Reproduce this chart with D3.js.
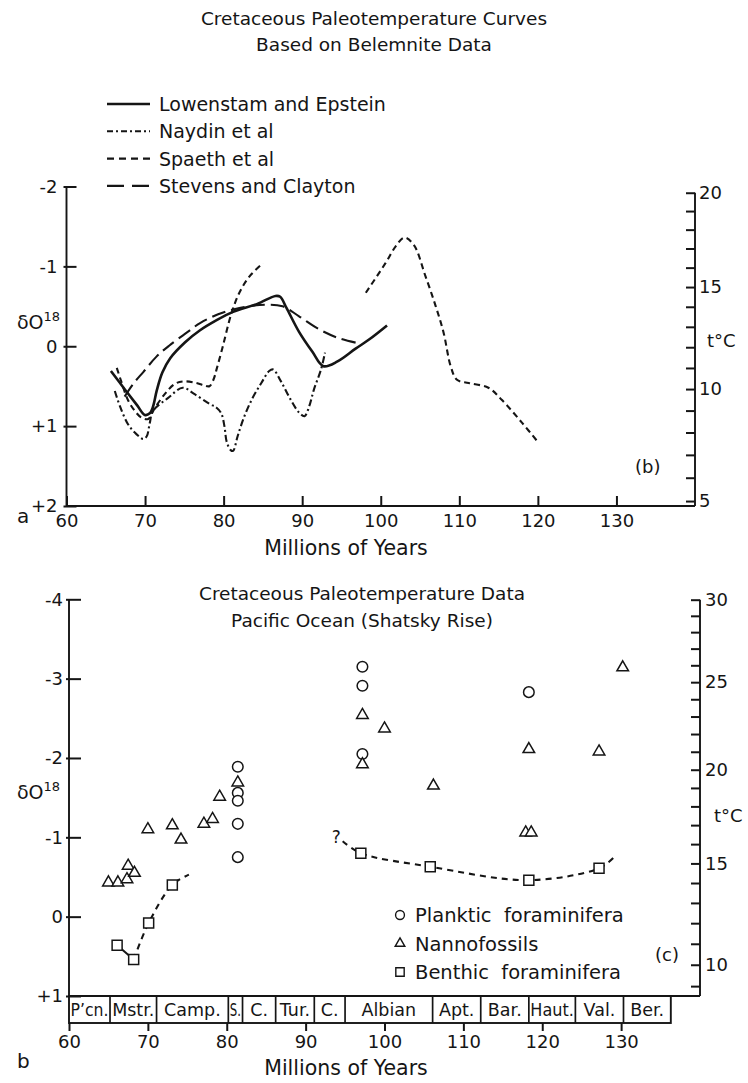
<!DOCTYPE html>
<html>
<head>
<meta charset="utf-8">
<script src="https://cdn.jsdelivr.net/npm/d3@7/dist/d3.min.js"></script>
<style>
  body { margin: 0; background: #fff; }
  svg text { font-family: "DejaVu Sans", sans-serif; fill: #151515; }
</style>
</head>
<body>
<svg id="chart" width="748" height="1083"></svg>
<script>
// ---------- Panel (b): belemnite paleotemperature curves  [age Ma, δ18O ‰] ----------
const lowenstamEpstein = [
  [65.65, 0.31], [67.5, 0.55], [69.0, 0.74], [69.96, 0.86], [70.6, 0.84], [71.0, 0.76],
  [71.5, 0.55], [72.2, 0.33], [73.2, 0.15], [75.1, -0.05], [77.0, -0.2], [79.0, -0.32],
  [81.2, -0.43], [84.3, -0.53], [86.6, -0.63], [87.2, -0.62], [88.0, -0.48], [89.6, -0.18],
  [91.3, 0.07], [92.7, 0.25], [94.5, 0.19], [96.8, 0.03], [98.6, -0.09], [100.8, -0.26]
];
const naydin = [
  [66.15, 0.56], [66.8, 0.75], [67.85, 0.98], [68.9, 1.1], [69.75, 1.16], [70.2, 1.13],
  [70.6, 0.96], [71.0, 0.81], [72.9, 0.65], [74.8, 0.52], [76.3, 0.6], [78.2, 0.72],
  [79.1, 0.77], [79.7, 0.84], [80.1, 1.0], [80.4, 1.2], [80.9, 1.3], [81.2, 1.31],
  [81.8, 1.12], [82.65, 0.875], [83.7, 0.645], [84.8, 0.46], [85.8, 0.31], [86.3, 0.29],
  [87.3, 0.44], [88.4, 0.645], [89.6, 0.83], [90.3, 0.875], [90.9, 0.75], [91.5, 0.54],
  [92.4, 0.29], [92.9, 0.08]
];
const spaethLate = [
  [66.4, 0.27], [67.0, 0.45], [67.85, 0.68], [68.7, 0.81], [69.5, 0.89], [70.4, 0.91],
  [71.2, 0.78], [72.5, 0.6], [73.8, 0.47], [75.0, 0.44], [76.5, 0.46], [77.5, 0.49],
  [78.2, 0.5], [78.7, 0.42], [79.1, 0.29], [79.9, 0.0], [80.96, -0.4], [82.0, -0.67],
  [83.3, -0.875], [85.0, -1.04]
];
const spaethEarly = [
  [98.1, -0.67], [100.6, -1.04], [101.9, -1.25], [103.0, -1.36], [104.2, -1.27],
  [105.7, -0.875], [107.0, -0.5], [108.0, -0.17], [108.9, 0.25], [109.7, 0.42],
  [111.2, 0.46], [113.7, 0.52], [115.4, 0.67], [118.0, 0.96], [120.1, 1.21]
];
const stevensClayton = [
  [67.4, 0.63], [68.5, 0.47], [69.8, 0.32], [71.45, 0.13], [73.1, -0.01], [75.7, -0.2],
  [77.0, -0.29], [79.3, -0.4], [82.0, -0.48], [85.4, -0.52], [87.5, -0.5], [89.6, -0.375],
  [92.2, -0.21], [94.7, -0.1], [97.5, -0.03]
];
const curveNames = ["Lowenstam and Epstein", "Naydin et al", "Spaeth et al", "Stevens and Clayton"];

// ---------- Panel (c): Shatsky Rise, Pacific Ocean  [age Ma, δ18O ‰] ----------
const planktic = [
  [97.2, -3.15], [97.2, -2.91], [97.2, -2.05], [81.4, -1.89], [81.4, -1.56], [81.4, -1.46],
  [81.4, -1.17], [81.4, -0.75], [118.3, -2.83]
];
const nannofossils = [
  [65.0, -0.43], [66.2, -0.43], [67.35, -0.47], [67.5, -0.64], [68.3, -0.55],
  [70.0, -1.1], [73.1, -1.15], [74.2, -0.97], [77.1, -1.17], [78.2, -1.23], [79.1, -1.51],
  [81.4, -1.69], [97.2, -2.54], [97.2, -1.92], [100.0, -2.37], [106.2, -1.65],
  [117.9, -1.06], [118.6, -1.06], [118.3, -2.11], [127.2, -2.08], [130.2, -3.14]
];
const benthic = [
  [66.1, 0.36], [68.2, 0.54], [70.1, 0.08], [73.1, -0.4],
  [97.0, -0.8], [105.8, -0.63], [118.3, -0.46], [127.2, -0.61]
];
const benthicTrendLate = [[68.2, 0.54], [70.1, 0.08], [73.1, -0.4], [75.2, -0.53]];
const benthicTrendEarly = [[94.7, -0.95], [97.0, -0.8], [105.8, -0.63], [118.3, -0.46], [127.2, -0.61], [129.0, -0.74]];
const markerNames = ["Planktic  foraminifera", "Nannofossils", "Benthic  foraminifera"];

const stageNames = ["P\u2019cn.", "Mstr.", "Camp.", "S.", "C.", "Tur.", "C.", "Albian", "Apt.", "Bar.", "Haut.", "Val.", "Ber."];
const stageBounds = [60, 65.2, 71.1, 80.2, 82.0, 86.2, 91.1, 95.0, 106.1, 112.2, 118.3, 124.2, 130.3, 136.3];

// ---------- ticks ----------
const ageTicks = [60, 70, 80, 90, 100, 110, 120, 130];
const deltaTicksB = [-2, -1, 0, 1, 2];
const deltaTicksC = [-4, -3, -2, -1, 0, 1];
const tempTicksB = [5, 6, 7, 8, 9, 10, 11, 12, 13, 14, 15, 16, 17, 18, 19, 20];
const tempTicksC = [9, 10, 11, 12, 13, 14, 15, 16, 17, 18, 19, 20, 21, 22, 23, 24, 25, 26, 27, 28, 29, 30];
const waterDeltaB = -1.2;   // assumed sea-water δ18O for the temperature scale
const waterDeltaC = -1.13;

// Paleotemperature equation T = 16.9 - 4.2 d + 0.13 d², d = δc - δw  → δc for a given T
function deltaForTemp(T, dw) {
  const a = 0.13, b = -4.2, c = 16.9 - T;
  return (-b - Math.sqrt(b * b - 4 * a * c)) / (2 * a) + dw;
}
const fmtDelta = d => d > 0 ? "+" + d : (d < 0 ? "-" + Math.abs(d) : "0");

const svg = d3.select("#chart");
const INK = "#151515";
const FS = 18;

function styleAxis(g) {
  g.select(".domain").remove();
  g.attr("font-family", null).attr("font-size", null);
  g.selectAll(".tick line").attr("stroke", INK).attr("stroke-width", 2);
  g.selectAll(".tick text").attr("fill", INK).style("font-size", FS + "px");
}
function axisLine(g, x1, y1, x2, y2, w) {
  g.append("line").attr("x1", x1).attr("y1", y1).attr("x2", x2).attr("y2", y2)
    .attr("stroke", INK).attr("stroke-width", w || 1.9);
}
function deltaLabel(g, x, y) {
  const t = g.append("text").attr("x", x).attr("y", y).style("font-size", "19px");
  t.append("tspan").text("\u03b4O");
  t.append("tspan").attr("dy", -8).style("font-size", "13px").text("18");
}

// ---------- titles ----------
svg.append("text").attr("x", 374).attr("y", 25).attr("text-anchor", "middle").style("font-size", "18.5px")
  .text("Cretaceous Paleotemperature Curves");
svg.append("text").attr("x", 374).attr("y", 51).attr("text-anchor", "middle").style("font-size", "18.5px")
  .text("Based on Belemnite Data");

// ================= Panel (b) =================
const xB = d3.scaleLinear().domain([60, 140]).range([66.5, 695]);
const yB = d3.scaleLinear().domain([-2, 2]).range([186.5, 506]);
const tB = d3.scaleLinear().domain(tempTicksB).range(tempTicksB.map(t => yB(deltaForTemp(t, waterDeltaB))));
const gB = svg.append("g");

axisLine(gB, xB(60), yB(-2), xB(60), yB(2));
axisLine(gB, xB(60), yB(2), xB(140), yB(2));
axisLine(gB, xB(140), tB(20), xB(140), yB(2));

gB.append("g").attr("transform", `translate(${xB(60)},0)`)
  .call(d3.axisLeft(yB).tickValues(deltaTicksB).tickSize(-10).tickPadding(9).tickFormat(fmtDelta))
  .call(styleAxis).call(g => g.selectAll(".tick line").attr("x1", -3));
gB.append("g").attr("transform", `translate(0,${yB(2)})`)
  .call(d3.axisBottom(xB).tickValues(ageTicks).tickSize(-10).tickPadding(8))
  .call(styleAxis);
gB.append("g").attr("transform", `translate(${xB(140)},0)`)
  .call(d3.axisRight(tB).tickValues(tempTicksB).tickSize(-9).tickPadding(4).tickFormat(t => t % 5 === 0 ? t : ""))
  .call(styleAxis);

const lineB = d3.line().x(d => xB(d[0])).y(d => yB(d[1])).curve(d3.curveCatmullRom.alpha(0.5));
const curveStyles = [
  { data: [lowenstamEpstein], width: 2.6, dash: null, legendDash: null },
  { data: [naydin], width: 2.1, dash: "7,3,2,3", legendDash: "6,3,2,3" },
  { data: [spaethLate, spaethEarly], width: 2.1, dash: "6,4", legendDash: "7,5" },
  { data: [stevensClayton], width: 2.1, dash: "14,6", legendDash: "17,8" }
];
curveStyles.forEach(s => {
  s.data.forEach(series => {
    gB.append("path").attr("d", lineB(series)).attr("fill", "none")
      .attr("stroke", INK).attr("stroke-width", s.width)
      .attr("stroke-dasharray", s.dash).attr("stroke-linejoin", "round");
  });
});

// legend
const legB = gB.append("g");
curveNames.forEach((name, i) => {
  const yy = 104 + i * 27.3;
  legB.append("line").attr("x1", 107).attr("x2", 150).attr("y1", yy).attr("y2", yy)
    .attr("stroke", INK).attr("stroke-width", curveStyles[i].width)
    .attr("stroke-dasharray", curveStyles[i].legendDash);
  legB.append("text").attr("x", 159).attr("y", yy + 7).style("font-size", "19px").text(name);
});

deltaLabel(gB, 17, 329);
gB.append("text").attr("x", 707).attr("y", 347).style("font-size", "18px").text("t\u00b0C");
gB.append("text").attr("x", 635).attr("y", 473).style("font-size", "18px").text("(b)");
gB.append("text").attr("x", 17).attr("y", 523).style("font-size", "20px").text("a");
gB.append("text").attr("x", 346).attr("y", 555).attr("text-anchor", "middle").style("font-size", "20.5px").text("Millions of Years");

// ================= Panel (c) =================
const xC = d3.scaleLinear().domain([60, 140]).range([69, 700]);
const yC = d3.scaleLinear().domain([-4, 1]).range([599.3, 996]);
const tC = d3.scaleLinear().domain(tempTicksC).range(tempTicksC.map(t => yC(deltaForTemp(t, waterDeltaC))));
const gC = svg.append("g");

axisLine(gC, xC(60), yC(-4), xC(60), yC(1));
axisLine(gC, xC(60), yC(1), xC(140), yC(1));
axisLine(gC, xC(140), tC(30), xC(140), yC(1));

gC.append("g").attr("transform", `translate(${xC(60)},0)`)
  .call(d3.axisLeft(yC).tickValues(deltaTicksC).tickSize(-12).tickPadding(6).tickFormat(fmtDelta))
  .call(styleAxis).call(g => g.selectAll(".tick line").attr("x1", -3));
gC.append("g").attr("transform", `translate(${xC(140)},0)`)
  .call(d3.axisRight(tC).tickValues(tempTicksC).tickSize(-9).tickPadding(5).tickFormat(t => t % 5 === 0 ? t : ""))
  .call(styleAxis);

// stage bar
const barTop = yC(1), barBot = 1023;
gC.append("rect").attr("x", xC(stageBounds[0])).attr("y", barTop)
  .attr("width", xC(stageBounds[stageBounds.length - 1]) - xC(stageBounds[0])).attr("height", barBot - barTop)
  .attr("fill", "none").attr("stroke", INK).attr("stroke-width", 1.9);
stageBounds.slice(1, -1).forEach(b => axisLine(gC, xC(b), barTop, xC(b), barBot, 1.7));
stageNames.forEach((name, i) => {
  const x0 = xC(stageBounds[i]), x1 = xC(stageBounds[i + 1]);
  const t = gC.append("text").attr("x", (x0 + x1) / 2).attr("y", barBot - 7)
    .attr("text-anchor", "middle").style("font-size", "17.5px").text(name);
  const room = x1 - x0 - 3;
  if (t.node().getComputedTextLength() > room) {
    t.attr("textLength", room).attr("lengthAdjust", "spacingAndGlyphs");
  }
});
gC.append("g").attr("transform", `translate(0,${barBot})`)
  .call(d3.axisBottom(xC).tickValues(ageTicks).tickSize(8).tickPadding(4))
  .call(styleAxis);

// benthic trend lines
const lineC = d3.line().x(d => xC(d[0])).y(d => yC(d[1]));
gC.append("path").attr("d", lineC([benthic[0], benthic[1]])).attr("stroke", INK).attr("stroke-width", 2).attr("fill", "none");
[benthicTrendLate, benthicTrendEarly].forEach(s => {
  gC.append("path").attr("d", lineC.curve(d3.curveCatmullRom.alpha(0.5))(s)).attr("fill", "none")
    .attr("stroke", INK).attr("stroke-width", 2.1).attr("stroke-dasharray", "6,5");
});
gC.append("text").attr("x", xC(93.9)).attr("y", yC(-1.01) + 6).attr("text-anchor", "middle").style("font-size", "17px").text("?");

// markers
const markerShapes = [d3.symbolCircle, d3.symbolTriangle, d3.symbolSquare];
const markerSizes = [88, 58, 100];
[planktic, nannofossils, benthic].forEach((series, k) => {
  gC.append("g").selectAll("path").data(series).join("path")
    .attr("transform", d => `translate(${xC(d[0])},${yC(d[1])})`)
    .attr("d", d3.symbol(markerShapes[k], markerSizes[k]))
    .attr("fill", "#fff").attr("stroke", INK).attr("stroke-width", 1.5);
});

// legend
markerNames.forEach((name, k) => {
  const yy = 915 + k * 28.5;
  gC.append("path").attr("transform", `translate(400,${yy})`)
    .attr("d", d3.symbol(markerShapes[k], markerSizes[k] * 0.7))
    .attr("fill", "#fff").attr("stroke", INK).attr("stroke-width", 1.4);
  gC.append("text").attr("x", 415).attr("y", yy + 7).style("font-size", "19.5px").style("white-space", "pre").text(name);
});

gC.append("text").attr("x", 362).attr("y", 600).attr("text-anchor", "middle").style("font-size", "18.5px")
  .text("Cretaceous Paleotemperature Data");
gC.append("text").attr("x", 362).attr("y", 627).attr("text-anchor", "middle").style("font-size", "18.5px")
  .text("Pacific Ocean (Shatsky Rise)");
deltaLabel(gC, 17, 799);
gC.append("text").attr("x", 714).attr("y", 822).style("font-size", "18px").text("t\u00b0C");
gC.append("text").attr("x", 655).attr("y", 961).style("font-size", "18px").text("(c)");
gC.append("text").attr("x", 17).attr("y", 1068).style("font-size", "20px").text("b");
gC.append("text").attr("x", 346).attr("y", 1075).attr("text-anchor", "middle").style("font-size", "20.5px").text("Millions of Years");
</script>
</body>
</html>
